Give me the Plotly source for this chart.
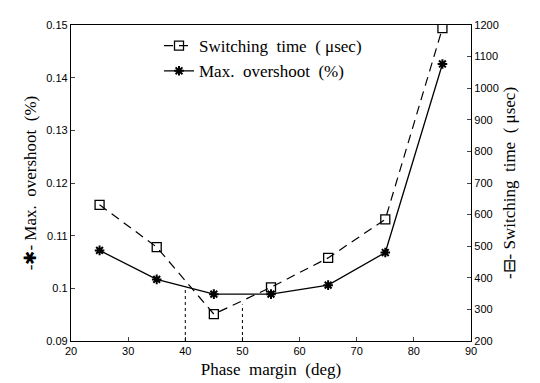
import numpy as np
import plotly.graph_objects as go

phase_margin = [25, 35, 45, 55, 65, 75, 85]
max_overshoot = [0.1072, 0.1017, 0.0989, 0.0989, 0.1006, 0.1068, 0.1426]
switching_time = [631, 497, 285, 370, 463, 585, 1190]

x_ticks = [20, 30, 40, 50, 60, 70, 80, 90]
y_ticks = [0.09, 0.1, 0.11, 0.12, 0.13, 0.14, 0.15]
y_tick_labels = ["0.09", "0.1", "0.11", "0.12", "0.13", "0.14", "0.15"]
y2_ticks = [200, 300, 400, 500, 600, 700, 800, 900, 1000, 1100, 1200]
guide_x = [40, 50]

serif = "Liberation Serif"
sans = "Liberation Sans"

fig = go.Figure()
fig.add_trace(go.Scatter(
    x=phase_margin, y=switching_time, yaxis="y2",
    name="Switching  time  ( μsec)", mode="lines+markers",
    line=dict(color="black", width=1.2, dash="9px,6px"),
    marker=dict(symbol="square-open", size=9, color="black", line=dict(width=1.3)),
))
fig.add_trace(go.Scatter(
    x=phase_margin, y=max_overshoot, yaxis="y",
    name="Max.  overshoot  (%)", mode="lines+markers",
    line=dict(color="black", width=1.3),
    marker=dict(symbol="asterisk-open", size=8, color="black", line=dict(width=2, color="black")),
))

# dotted guide lines, reaching the curves
g1_top = float(np.interp(guide_x[0], phase_margin, max_overshoot))
g2_top = float(np.interp(guide_x[1], phase_margin, switching_time))
fig.add_shape(type="line", xref="x", yref="y", x0=guide_x[0], x1=guide_x[0],
              y0=y_ticks[0], y1=g1_top, line=dict(color="black", width=1, dash="dot"))
fig.add_shape(type="line", xref="x", yref="y2", x0=guide_x[1], x1=guide_x[1],
              y0=y2_ticks[0], y1=g2_top - 12, line=dict(color="black", width=1, dash="dot"))

fig.update_layout(
    width=540, height=383,
    margin=dict(l=63, r=77, t=11, b=50),
    paper_bgcolor="white", plot_bgcolor="white",
    showlegend=True,
    legend=dict(x=0.22, y=0.99, xanchor="left", yanchor="top",
                bgcolor="rgba(0,0,0,0)", font=dict(family=serif, size=17, color="black"),
                tracegroupgap=0, itemwidth=30),
    xaxis=dict(range=[20, 90], tickvals=x_ticks, ticks="inside", ticklen=4,
               showline=True, linecolor="black", linewidth=1.3, mirror=True,
               showgrid=False, zeroline=False,
               tickfont=dict(family=sans, size=11, color="black"),
               title=dict(text="Phase  margin  (deg)", font=dict(family=serif, size=17, color="black"),
                          standoff=6)),
    yaxis=dict(range=[0.09, 0.15], tickvals=y_ticks, ticktext=y_tick_labels,
               ticks="inside", ticklen=4,
               showline=True, linecolor="black", linewidth=1.3,
               showgrid=False, zeroline=False,
               tickfont=dict(family=sans, size=11, color="black"),
               title=dict(text="-✱- Max.  overshoot  (%)", font=dict(family=serif, size=17, color="black"),
                          standoff=5)),
    yaxis2=dict(range=[200, 1200], tickvals=y2_ticks, overlaying="y", side="right",
                ticks="inside", ticklen=4,
                showline=True, linecolor="black", linewidth=1.3,
                showgrid=False, zeroline=False,
                tickfont=dict(family=sans, size=11, color="black"),
                title=dict(text="-⊟- Switching  time  ( μsec)", font=dict(family=serif, size=17, color="black"),
                           standoff=5)),
)

fig.write_html("out.html")
